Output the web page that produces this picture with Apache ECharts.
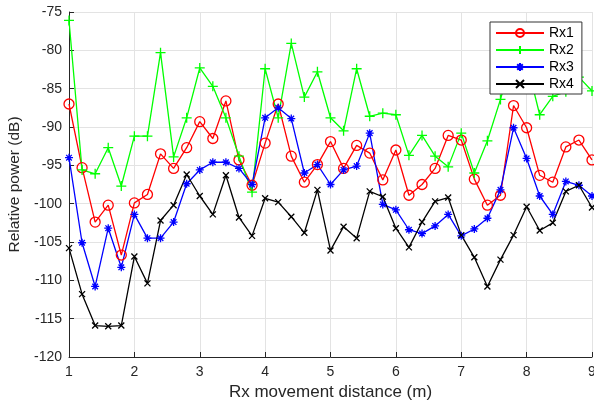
<!DOCTYPE html>
<html>
<head>
<meta charset="utf-8">
<script src="https://cdn.jsdelivr.net/npm/echarts@6/dist/echarts.min.js"></script>
<style>
  html, body { margin: 0; padding: 0; background: #fff; }
  #chart { width: 594px; height: 402px; }
</style>
</head>
<body>
<div id="chart"></div>
<script>
// distance in metres, one sample every 0.2 m
const distance = [1, 1.2, 1.4, 1.6, 1.8, 2, 2.2, 2.4, 2.6, 2.8, 3, 3.2, 3.4, 3.6, 3.8, 4, 4.2, 4.4, 4.6, 4.8,
  5, 5.2, 5.4, 5.6, 5.8, 6, 6.2, 6.4, 6.6, 6.8, 7, 7.2, 7.4, 7.6, 7.8, 8, 8.2, 8.4, 8.6, 8.8, 9]

const rx1 = [-87.0, -95.3, -102.4, -100.2, -106.7, -99.9, -98.8, -93.5, -95.4, -92.7, -89.3, -91.5, -86.6, -94.3,
  -97.6, -92.1, -87.0, -93.8, -97.2, -94.9, -91.9, -95.4, -92.4, -93.4, -96.9, -93.0, -98.9, -97.5, -95.4,
  -91.1, -91.7, -96.8, -100.2, -98.9, -87.2, -90.1, -96.3, -97.2, -92.6, -91.7, -94.3]
const rx2 = [-76.1, -95.6, -96.1, -92.7, -97.7, -91.2, -91.2, -80.3, -93.9, -88.8, -82.3, -84.7, -88.8, -93.8,
  -98.5, -82.4, -88.8, -79.1, -86.1, -82.8, -88.8, -90.5, -82.4, -88.6, -88.2, -88.4, -93.7, -91.1, -93.8,
  -95.2, -90.8, -96.0, -91.8, -86.4, -80.5, -81.5, -88.4, -86.0, -85.4, -83.5, -85.3]
const rx3 = [-94.0, -105.1, -110.8, -103.2, -108.3, -101.4, -104.5, -104.5, -102.4, -97.4, -95.6, -94.6, -94.6,
  -95.4, -97.5, -88.8, -87.5, -88.9, -96.0, -94.9, -97.5, -95.6, -95.1, -90.8, -100.1, -100.8, -103.4, -103.9,
  -102.9, -101.4, -104.2, -103.3, -101.9, -98.2, -90.1, -94.1, -99.0, -101.4, -97.1, -97.6, -99.0]
const rx4 = [-105.8, -111.8, -115.9, -116.0, -115.9, -106.9, -110.4, -102.2, -100.2, -96.2, -99.0, -101.4, -96.3,
  -101.8, -104.2, -99.3, -99.8, -101.7, -103.8, -98.2, -106.1, -103.0, -104.5, -98.4, -99.1, -103.2, -105.7,
  -102.4, -99.7, -99.2, -104.1, -107.0, -110.8, -107.3, -104.1, -100.4, -103.5, -102.5, -98.4, -97.6, -100.5]

const names = ['Rx1', 'Rx2', 'Rx3', 'Rx4']
const colors = ['#ff0000', '#00ff00', '#0000ff', '#000000']

// matlab-like markers (stroked only)
const ringMark = 'path://M10,5A5,5,0,1,1,0,5A5,5,0,1,1,10,5Z'
const plusMark = 'path://M5,0L5,10M0,5L10,5'
const starMark = 'path://M5,0L5,10M0,5L10,5M1.5,1.5L8.5,8.5M1.5,8.5L8.5,1.5'
const crossMark = 'path://M0,0L10,10M0,10L10,0'

const font = 'Liberation Sans, Arial, Helvetica, sans-serif'

function pairs (ys) {
  return distance.map((x, i) => [x, ys[i]])
}

function makeSeries (name, ys, color, symbol, size) {
  return {
    name: name,
    type: 'line',
    data: pairs(ys),
    symbol: symbol,
    symbolSize: size,
    showAllSymbol: true,
    animation: false,
    lineStyle: { color: color, width: 1.3 },
    itemStyle: { color: 'none', borderColor: color, borderWidth: 1.3 },
    emphasis: { disabled: true }
  }
}

const chart = echarts.init(document.getElementById('chart'))
chart.setOption({
  backgroundColor: '#fff',
  animation: false,
  color: colors,
  grid: { left: 69, right: 2, top: 12, bottom: 45, outerBoundsMode: 'none' },
  legend: {
    data: names,
    orient: 'vertical',
    left: 490,
    top: 22,
    itemWidth: 48,
    itemHeight: 10,
    itemGap: 3,
    padding: [4, 8, 3, 5],
    backgroundColor: '#fff',
    borderColor: '#333',
    borderWidth: 1,
    textStyle: { fontFamily: font, fontSize: 14, color: '#000', lineHeight: 14 }
  },
  xAxis: {
    type: 'value',
    min: 1,
    max: 9,
    interval: 1,
    name: 'Rx movement distance (m)',
    nameLocation: 'middle',
    nameGap: 25,
    nameTextStyle: { fontFamily: font, fontSize: 17, color: '#262626' },
    axisLine: { show: true, lineStyle: { color: '#262626', width: 1 } },
    axisTick: { show: true, inside: true, length: 5, lineStyle: { color: '#262626' } },
    axisLabel: { fontFamily: font, fontSize: 14, color: '#262626', margin: 8 },
    splitLine: { show: true, lineStyle: { color: '#e3e3e3', width: 1 } }
  },
  yAxis: {
    type: 'value',
    min: -120,
    max: -75,
    interval: 5,
    name: 'Relative power (dB)',
    nameLocation: 'middle',
    nameGap: 44,
    nameTextStyle: { fontFamily: font, fontSize: 15.5, color: '#262626' },
    axisLine: { show: true, lineStyle: { color: '#262626', width: 1 } },
    axisTick: { show: true, inside: true, length: 5, lineStyle: { color: '#262626' } },
    axisLabel: { fontFamily: font, fontSize: 14, color: '#262626', margin: 7 },
    splitLine: { show: true, lineStyle: { color: '#e3e3e3', width: 1 } }
  },
  series: [
    makeSeries(names[0], rx1, colors[0], ringMark, 10),
    makeSeries(names[1], rx2, colors[1], plusMark, 10),
    makeSeries(names[2], rx3, colors[2], starMark, 8),
    makeSeries(names[3], rx4, colors[3], crossMark, 6)
  ]
})
</script>
</body>
</html>
